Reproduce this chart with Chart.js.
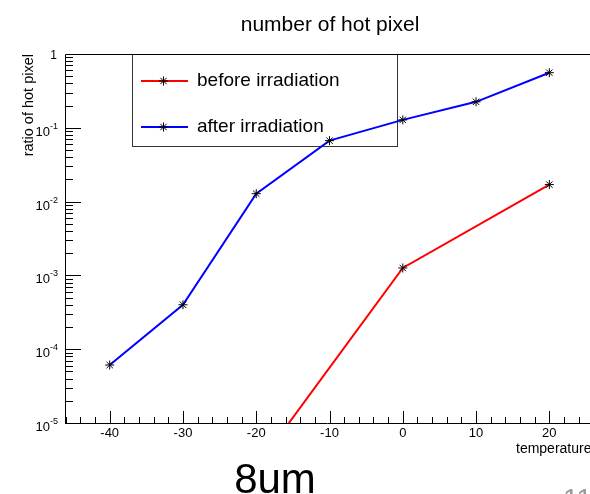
<!DOCTYPE html>
<html>
<head>
<meta charset="utf-8">
<script src="https://cdn.jsdelivr.net/npm/chart.js@4/dist/chart.umd.min.js"></script>
<style>
  html, body { margin: 0; padding: 0; background: #fff; }
  canvas { display: block; }
</style>
</head>
<body>
<canvas id="mycanvas" width="590" height="494"></canvas>
<script>
// values
var temps = [-40, -30, -20, -10, 0, 10, 20];
var afterIrr = [6.1e-5, 4.0e-4, 1.28e-2, 6.7e-2, 0.128, 0.225, 0.558];
var beforeTemps = [-20, 0, 20];
var beforeIrr = [2.5e-6, 1.26e-3, 1.7e-2];
var xTicks = [-40, -30, -20, -10, 0, 10, 20];
var yDecades = [-5, -4, -3, -2, -1, 0];

var font = "'Liberation Sans', Arial, sans-serif";

function pts(xs, ys) {
  var out = [];
  for (var i in xs) out.push({x: xs[i], y: ys[i]});
  return out;
}

// legend box sits under the curves, like in the ROOT canvas
var rootLegend = {
  id: 'rootLegend',
  beforeDatasetsDraw: function(chart) {
    var ctx = chart.ctx;
    ctx.save();
    var lx = 132.5, ly = 54.5, lw = 265, lh = 92;
    ctx.strokeStyle = '#333';
    ctx.lineWidth = 1;
    ctx.strokeRect(lx, ly, lw, lh);
    var rows = [81, 127];
    chart.data.datasets.forEach(function(ds, i) {
      var ry = rows[i];
      ctx.strokeStyle = ds.borderColor;
      ctx.lineWidth = 2;
      ctx.beginPath();
      ctx.moveTo(141, ry);
      ctx.lineTo(188, ry);
      ctx.stroke();
      ctx.strokeStyle = '#000';
      ctx.lineWidth = 1;
      ctx.beginPath();
      var cx = 163.5, r = 4.5;
      ctx.moveTo(cx - r, ry); ctx.lineTo(cx + r, ry);
      ctx.moveTo(cx, ry - r); ctx.lineTo(cx, ry + r);
      ctx.moveTo(cx - r * 0.7, ry - r * 0.7); ctx.lineTo(cx + r * 0.7, ry + r * 0.7);
      ctx.moveTo(cx - r * 0.7, ry + r * 0.7); ctx.lineTo(cx + r * 0.7, ry - r * 0.7);
      ctx.stroke();
      ctx.fillStyle = '#000';
      ctx.font = '19px ' + font;
      ctx.textAlign = 'left';
      ctx.textBaseline = 'middle';
      ctx.fillText(ds.label, 197, ry);
    });
    ctx.restore();
  }
};

var rootStyle = {
  id: 'rootStyle',
  afterDraw: function(chart) {
    var ctx = chart.ctx;
    var a = chart.chartArea;
    var sx = chart.scales.x, sy = chart.scales.y;
    var W = chart.width;
    ctx.save();

    // frame
    ctx.strokeStyle = '#000';
    ctx.lineWidth = 1;
    ctx.beginPath();
    ctx.moveTo(a.left + 0.5, a.bottom + 0.5);
    ctx.lineTo(a.left + 0.5, a.top + 0.5);
    ctx.lineTo(W, a.top + 0.5);
    ctx.moveTo(a.left, a.bottom + 0.5);
    ctx.lineTo(W, a.bottom + 0.5);
    ctx.stroke();

    // x ticks, inside the frame
    ctx.beginPath();
    for (var v = -46; v <= 28; v += 2) {
      var px = Math.round(sx.getPixelForValue(v)) + 0.5;
      if (px < a.left + 1 || px > W) continue;
      var len = (v % 10 === 0) ? 12 : 6;
      ctx.moveTo(px, a.bottom);
      ctx.lineTo(px, a.bottom - len);
    }
    // y ticks
    for (var d = -5; d < 0; d++) {
      for (var k = 1; k <= 9; k++) {
        var py = Math.round(sy.getPixelForValue(k * Math.pow(10, d))) + 0.5;
        if (py > a.bottom - 1) continue;
        var l = (k === 1) ? 16 : 8;
        ctx.moveTo(a.left, py);
        ctx.lineTo(a.left + l, py);
      }
    }
    ctx.stroke();

    // y labels 10^n
    ctx.fillStyle = '#000';
    ctx.textBaseline = 'alphabetic';
    yDecades.forEach(function(n) {
      var py = sy.getPixelForValue(Math.pow(10, n));
      if (n === 0) {
        ctx.font = '12px ' + font;
        ctx.textAlign = 'right';
        ctx.fillText('1', 57, py + 5);
        return;
      }
      var sup = String(n);
      ctx.font = '9px ' + font;
      var sw = ctx.measureText(sup).width;
      ctx.textAlign = 'right';
      ctx.fillText(sup, 58, py + 1);
      ctx.font = '13px ' + font;
      ctx.fillText('10', 58 - sw, py + 8);
    });

    // y axis title
    ctx.save();
    ctx.translate(33, a.top);
    ctx.rotate(-Math.PI / 2);
    ctx.font = '14.5px ' + font;
    ctx.textAlign = 'right';
    ctx.fillText('ratio of hot pixel', 0, 0);
    ctx.restore();

    // x axis title
    ctx.font = '14px ' + font;
    ctx.textAlign = 'left';
    ctx.fillText('temperature', 516, 453);

    // title
    ctx.font = '21px ' + font;
    ctx.textAlign = 'center';
    ctx.fillText('number of hot pixel', 330, 31);

    // slide text below the plot
    ctx.font = '42px ' + font;
    ctx.textAlign = 'center';
    ctx.fillStyle = '#000';
    ctx.fillText('8um', 275, 493);
    ctx.font = '28px ' + font;
    ctx.fillStyle = '#9a9a9a';
    ctx.textAlign = 'left';
    ctx.fillText('11', 563, 508);

    ctx.restore();
  }
};

var ctx = document.getElementById('mycanvas');

var chart = new Chart(ctx, {
  type: 'line',
  data: {
    datasets: [
      {
        label: 'before irradiation',
        data: pts(beforeTemps, beforeIrr),
        borderColor: '#ff0000',
        borderWidth: 2,
        pointStyle: 'star',
        pointRadius: 4.5,
        pointBorderColor: '#000',
        pointBorderWidth: 1,
        pointBackgroundColor: '#000',
        tension: 0,
        fill: false
      },
      {
        label: 'after irradiation',
        data: pts(temps, afterIrr),
        borderColor: '#0000ff',
        borderWidth: 2,
        pointStyle: 'star',
        pointRadius: 4.5,
        pointBorderColor: '#000',
        pointBorderWidth: 1,
        pointBackgroundColor: '#000',
        tension: 0,
        fill: false
      }
    ]
  },
  options: {
    responsive: false,
    animation: false,
    devicePixelRatio: 1,
    layout: { padding: { left: 65, top: 54, right: 0, bottom: 0 } },
    plugins: {
      legend: { display: false },
      title: { display: false },
      tooltip: { enabled: false }
    },
    scales: {
      x: {
        type: 'linear',
        min: -46.1,
        max: 24.8,
        grid: { display: false, drawTicks: false },
        border: { display: false },
        afterBuildTicks: function(scale) {
          scale.ticks = xTicks.map(function(v) { return {value: v}; });
        },
        afterFit: function(scale) { scale.height = 71; },
        ticks: {
          autoSkip: false,
          maxRotation: 0,
          padding: 3,
          color: '#000',
          font: { family: font, size: 13 }
        }
      },
      y: {
        type: 'logarithmic',
        min: 1e-5,
        max: 1,
        grid: { display: false },
        border: { display: false },
        ticks: { display: false },
        afterFit: function(scale) { scale.width = 0; }
      }
    }
  },
  plugins: [rootLegend, rootStyle]
});
</script>
</body>
</html>
